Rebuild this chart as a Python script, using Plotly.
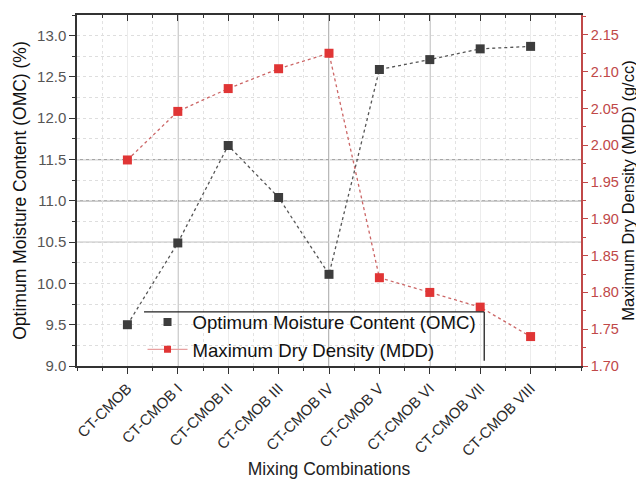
import plotly.graph_objects as go

categories = ["CT-CMOB", "CT-CMOB I", "CT-CMOB II", "CT-CMOB III", "CT-CMOB IV",
              "CT-CMOB V", "CT-CMOB VI", "CT-CMOB VII", "CT-CMOB VIII"]
omc = [9.50, 10.49, 11.67, 11.04, 10.11, 12.59, 12.71, 12.84, 12.87]
mdd = [1.98, 2.046, 2.077, 2.104, 2.125, 1.82, 1.80, 1.78, 1.74]
dark_grid_cats = [1, 4, 6]
dark_grid_omc = [11.5, 11.0, 10.5]
dark_grid_colors = ["#a6a6a6", "#9a9a9a", "#c4c4c4"]

xidx = list(range(len(categories)))

fig = go.Figure()
fig.add_trace(go.Scatter(
    x=xidx, y=omc, name="Optimum Moisture Content (OMC)",
    mode="lines+markers",
    line=dict(color="#555555", width=1.3, dash="dot"),
    marker=dict(symbol="square", size=9, color="#3d3d3d"),
    xaxis="x", yaxis="y", showlegend=False))
fig.add_trace(go.Scatter(
    x=[None], y=[None], name="Optimum Moisture Content (OMC)",
    mode="markers", marker=dict(symbol="square", size=8, color="#3d3d3d"),
    xaxis="x", yaxis="y"))
fig.add_trace(go.Scatter(
    x=xidx, y=mdd, name="Maximum Dry Density (MDD)",
    mode="lines+markers",
    line=dict(color="#cc6666", width=1.3, dash="dot"),
    marker=dict(symbol="square", size=9, color="#e03535"),
    xaxis="x", yaxis="y2", showlegend=False))
fig.add_trace(go.Scatter(
    x=[None], y=[None], name="Maximum Dry Density (MDD)",
    mode="lines+markers",
    line=dict(color="#e8a0a0", width=1.3),
    marker=dict(symbol="square", size=7, color="#e03535"),
    xaxis="x", yaxis="y2"))
fig.add_trace(go.Scatter(x=[None], y=[None], xaxis="x2", yaxis="y", showlegend=False))

font_family = "Liberation Sans, Arial, sans-serif"

shapes = []
for c in dark_grid_cats:
    shapes.append(dict(type="line", xref="x", yref="paper", x0=c, x1=c, y0=0, y1=1,
                       line=dict(color="#8a8a8a", width=1.2), layer="below"))
for v, col in zip(dark_grid_omc, dark_grid_colors):
    shapes.append(dict(type="line", xref="paper", yref="y", x0=0, x1=1, y0=v, y1=v,
                       line=dict(color=col, width=1.3), layer="below"))
shapes.append(dict(type="line", xref="paper", yref="paper", x0=0.133, x1=0.808, y0=0.154, y1=0.154,
                   line=dict(color="#222222", width=1.3)))
shapes.append(dict(type="line", xref="paper", yref="paper", x0=0.808, x1=0.808, y0=0.154, y1=0.015,
                   line=dict(color="#222222", width=1.3)))

fig.update_layout(
    width=644, height=481, autosize=False,
    margin=dict(l=69, r=71, t=7, b=123, pad=0, autoexpand=False),
    paper_bgcolor="white", plot_bgcolor="white",
    font=dict(family=font_family, color="#222222"),
    shapes=shapes,
    legend=dict(x=0.13, y=0.178, xanchor="left", yanchor="top",
                bgcolor="rgba(0,0,0,0)", borderwidth=0,
                font=dict(size=18.6, color="#111111"), itemwidth=40,
                tracegroupgap=0),
    xaxis=dict(
        range=[-1, 9], tickmode="array", tickvals=xidx, ticktext=categories,
        tickangle=-45, tickfont=dict(size=15, color="#2a2a2a"), automargin=False,
        showline=True, linecolor="#333333", linewidth=1.5,
        ticks="outside", ticklen=6, tickwidth=1.2, tickcolor="#333333",
        showgrid=True, gridcolor="#ececec", gridwidth=1,
        minor=dict(dtick=0.5, tick0=-0.5, ticks="outside", ticklen=3, tickcolor="#333333",
                   showgrid=True, gridcolor="#e2e2e2", griddash="dot", gridwidth=1),
        title=dict(text="Mixing Combinations", font=dict(size=17.5, color="#222222"), standoff=4),
        zeroline=False),
    xaxis2=dict(
        range=[-1, 9], overlaying="x", side="top", tickmode="array", tickvals=xidx,
        showticklabels=False, showline=True, linecolor="#333333", linewidth=1.5,
        ticks="inside", ticklen=6, tickwidth=1.2, tickcolor="#333333", showgrid=False,
        automargin=False,
        minor=dict(dtick=0.5, tick0=-0.5, ticks="inside", ticklen=3, tickcolor="#333333"),
        zeroline=False),
    yaxis=dict(
        range=[9.0, 13.25], tickmode="array", tickvals=[9.0, 9.5, 10.0, 10.5, 11.0, 11.5, 12.0, 12.5, 13.0],
        ticktext=["9.0", "9.5", "10.0", "10.5", "11.0", "11.5", "12.0", "12.5", "13.0"],
        tickfont=dict(size=15, color="#555555"), automargin=False,
        showline=True, linecolor="#333333", linewidth=1.5,
        ticks="outside", ticklen=6, tickwidth=1.2, tickcolor="#333333",
        showgrid=False,
        minor=dict(dtick=0.25, tick0=9.0, ticks="outside", ticklen=3, tickcolor="#333333",
                   showgrid=True, gridcolor="#dedede", griddash="dot", gridwidth=1),
        title=dict(text="Optimum Moisture Content (OMC) (%)", font=dict(size=17.5, color="#111111"), standoff=6),
        zeroline=False),
    yaxis2=dict(
        range=[1.70, 2.177], overlaying="y", side="right",
        tickmode="array", tickvals=[1.70, 1.75, 1.80, 1.85, 1.90, 1.95, 2.00, 2.05, 2.10, 2.15],
        ticktext=["1.70", "1.75", "1.80", "1.85", "1.90", "1.95", "2.00", "2.05", "2.10", "2.15"],
        tickfont=dict(size=14.5, color="#c04848"), automargin=False,
        showline=True, linecolor="#c04848", linewidth=1.5,
        ticks="outside", ticklen=5, tickwidth=1.2, tickcolor="#c04848",
        showgrid=False,
        minor=dict(dtick=0.025, tick0=1.70, ticks="outside", ticklen=3, tickcolor="#c04848"),
        title=dict(text="Maximum Dry Density (MDD) (g/cc)", font=dict(size=16.5, color="#111111"), standoff=0),
        zeroline=False),
)

fig.write_html("out.html")
